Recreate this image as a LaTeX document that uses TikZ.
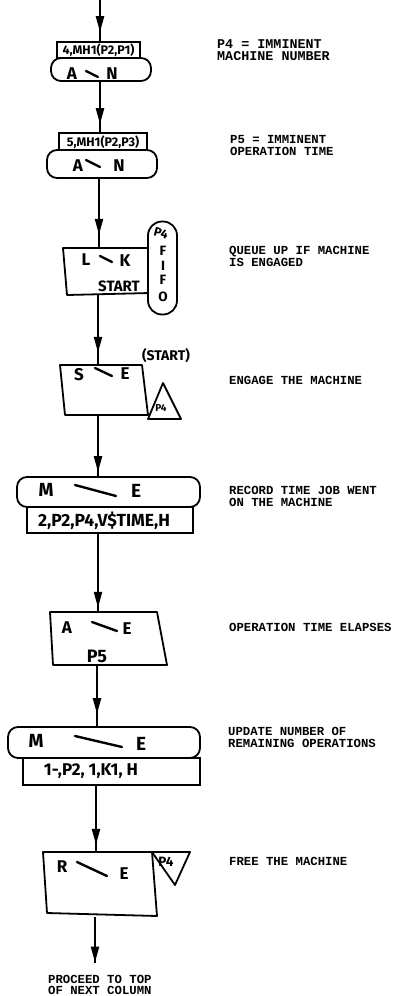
\documentclass[tikz,border=0pt]{standalone}
\usepackage{fontspec}
\usetikzlibrary{arrows.meta,decorations.markings}
\newfontfamily\typed{Liberation Mono}
\newfontfamily\hand{Fira Sans}

\tikzset{
  outline/.style={line width=1.8pt, line join=round},
  tag/.style={draw, line width=1.6pt, rectangle, inner sep=0pt},
  pill/.style={draw, line width=1.8pt, rectangle, rounded corners=10pt, inner sep=0pt},
  region/.style={rectangle, inner sep=0pt},
  flow/.style={line width=2.2pt, postaction={decorate},
    decoration={markings, mark=at position {-#1} with {\arrow{Triangle[length=16pt,width=8pt]}}}},
  flow/.default=8pt,
  note/.style={font=\typed\bfseries\fontsize{12.3}{12}\selectfont, anchor=base west, inner sep=0pt},
  bignote/.style={note, font=\typed\bfseries\fontsize{13.4}{12}\selectfont},
  glyph/.style={font=\hand\bfseries\fontsize{17}{17}\selectfont, inner sep=0pt},
  bigglyph/.style={font=\hand\bfseries\fontsize{19}{19}\selectfont, inner sep=0pt},
  small/.style={font=\hand\bfseries\fontsize{12.5}{12.5}\selectfont, inner sep=0pt},
  queueletter/.style={font=\hand\bfseries\fontsize{13.5}{13.5}\selectfont, inner sep=0pt},
  tiny/.style={font=\hand\bfseries\fontsize{10}{10}\selectfont, inner sep=0pt},
  stroke/.style={line width=2.4pt, line cap=round},
}

\begin{document}
\begin{tikzpicture}[x=1pt,y=-1pt]
\path[use as bounding box] (0,0) rectangle (396,996);

% ---- ASSIGN 4,MH1(P2,P1)
\coordinate (in) at (100,0);
\node[tag, minimum width=83pt, minimum height=16pt] (lab1) at (98.5,50) {};
\node[small] (lab1t) at (98.5,50.5) {4,MH1(P2,P1)};
\node[pill, minimum width=100pt, minimum height=23pt] (blk1) at (101,69.5) {};
\node[glyph] (g1a) at (72,74) {A};
\node[glyph] (g1b) at (112,74) {N};
\draw[stroke] (86,71) -- (98,77);

% ---- ASSIGN 5,MH1(P2,P3)
\node[tag, minimum width=88pt, minimum height=17pt] (lab2) at (103,141.5) {};
\node[small] (lab2t) at (103,142) {5,MH1(P2,P3)};
\node[pill, minimum width=110pt, minimum height=28pt] (blk2) at (102,164) {};
\node[glyph] (g2a) at (78,166) {A};
\node[glyph] (g2b) at (119,166) {N};
\draw[stroke] (86,160) -- (100,167);

% ---- LINK P4,FIFO,START
\node[region, minimum width=86pt, minimum height=47pt] (blk3) at (106,271.5) {};
\draw[outline] (63,248) -- (148,248) -- (150,293) -- (67,295) -- cycle;
\node[glyph] (g3a) at (86,260) {L};
\node[glyph] (g3b) at (125,261) {K};
\draw[stroke] (100,256) -- (112,262);
\node[glyph, font=\hand\bfseries\fontsize{15}{15}\selectfont] (g3c) at (119,286) {START};
\node[pill, rounded corners=14pt, minimum width=29pt, minimum height=93pt, fill=white] (fifo) at (162.5,268) {};
\node[small, rotate=-15] (fifo0) at (161,233) {P4};
\node[queueletter] (fifo1) at (163,251) {F};
\node[queueletter] (fifo2) at (163,265.5) {I};
\node[queueletter] (fifo3) at (163,280) {F};
\node[queueletter] (fifo4) at (163,296.5) {O};

% ---- SEIZE P4 at START
\node[glyph, font=\hand\bfseries\fontsize{14}{14}\selectfont] (startlab) at (166,356) {(START)};
\node[region, minimum width=88pt, minimum height=50pt] (blk4) at (104,390) {};
\draw[outline] (60,365) -- (142,365) -- (148,415) -- (65,415) -- cycle;
\node[glyph] (g4a) at (79,375) {S};
\node[glyph] (g4b) at (125,374) {E};
\draw[stroke] (95,368) -- (112,376);
\draw[outline] (163,383) -- (148,419) -- (181,419) -- cycle;
\node[tiny] (tri4t) at (161,408) {P4};

% ---- MSAVEVALUE 2,P2,P4,V$TIME,H
\node[pill, minimum width=183pt, minimum height=30pt] (blk5) at (108.5,492) {};
\node[bigglyph] (g5a) at (46,490) {M};
\node[bigglyph] (g5b) at (136,491) {E};
\draw[stroke] (75,485) -- (116,496);
\node[tag, minimum width=166pt, minimum height=26pt] (lab5) at (110,520) {};
\node[glyph, font=\hand\bfseries\fontsize{17.5}{17.5}\selectfont] (lab5t) at (104,521) {2,P2,P4,V\$TIME,H};

% ---- ADVANCE P5
\node[region, minimum width=110pt, minimum height=53pt] (blk6) at (108,638.5) {};
\draw[outline] (50,612) -- (157,612) -- (167,665) -- (53,665) -- cycle;
\node[glyph] (g6a) at (67,628) {A};
\node[glyph] (g6b) at (127,629) {E};
\draw[stroke] (92,622) -- (117,631);
\node[glyph, font=\hand\bfseries\fontsize{18}{18}\selectfont] (g6c) at (97,656) {P5};

% ---- MSAVEVALUE 1-,P2,1,K1,H
\node[pill, minimum width=192pt, minimum height=31pt] (blk7) at (104,742.5) {};
\node[bigglyph] (g7a) at (36,741) {M};
\node[bigglyph] (g7b) at (141,744) {E};
\draw[stroke] (75,736) -- (122,747);
\node[tag, minimum width=177pt, minimum height=27pt] (lab7) at (111.5,771.5) {};
\node[glyph] (lab7t) at (91,771) {1-,P2, 1,K1, H};

% ---- RELEASE P4
\node[region, minimum width=114pt, minimum height=65pt] (blk8) at (100,884.5) {};
\draw[outline] (43,852) -- (152,852) -- (157,916) -- (47,913) -- cycle;
\draw[outline] (152,852) -- (190,852) -- (175,885) -- cycle;
\node[queueletter] (tri8t) at (166,862) {P4};
\node[glyph] (g8a) at (62,867) {R};
\node[glyph] (g8b) at (124,874) {E};
\draw[stroke] (77,862) -- (107,876);
\coordinate (out) at (95,963);

% ---- flow lines
\coordinate (s1) at (100,0);
\coordinate (s2) at (99,0);
\coordinate (s3) at (98,0);
\coordinate (s4) at (97,0);
\coordinate (s5) at (96,0);
\coordinate (s6) at (95,0);
\draw[flow=9pt] (in) -- (s1 |- lab1.north);
\draw[flow=8pt] (s1 |- blk1.south) -- (s1 |- lab2.north);
\draw[flow=13pt] (s2 |- blk2.south) -- (s2 |- blk3.north);
\draw[flow=12pt] (s3 |- blk3.south) -- (s3 |- blk4.north);
\draw[flow=4pt] (s3 |- blk4.south) -- (s3 |- blk5.north);
\draw[flow=4pt] (s3 |- lab5.south) -- (s3 |- blk6.north);
\draw[flow=12pt] (s4 |- blk6.south) -- (s4 |- blk7.north);
\draw[flow=7pt] (s5 |- lab7.south) -- (s5 |- blk8.north);
\draw[flow=0.5pt] (s6 |- blk8.south) -- (out);

% ---- comments
\node[bignote] (n1a) at (217,48) {P4 = IMMINENT};
\node[bignote] (n1b) at (217,60) {MACHINE NUMBER};
\node[note] (n2a) at (230,143) {P5 = IMMINENT};
\node[note] (n2b) at (230,155) {OPERATION TIME};
\node[note] (n3a) at (229,254) {QUEUE UP IF MACHINE};
\node[note] (n3b) at (229,266) {IS ENGAGED};
\node[note] (n4) at (229,384) {ENGAGE THE MACHINE};
\node[note] (n5a) at (229,494) {RECORD TIME JOB WENT};
\node[note] (n5b) at (229,506) {ON THE MACHINE};
\node[note] (n6) at (229,631) {OPERATION TIME ELAPSES};
\node[note] (n7a) at (228,735) {UPDATE NUMBER OF};
\node[note] (n7b) at (228,747) {REMAINING OPERATIONS};
\node[note] (n8) at (229,865) {FREE THE MACHINE};
\node[note] (n9a) at (48,983) {PROCEED TO TOP};
\node[note] (n9b) at (48,994) {OF NEXT COLUMN};
\end{tikzpicture}
\end{document}
